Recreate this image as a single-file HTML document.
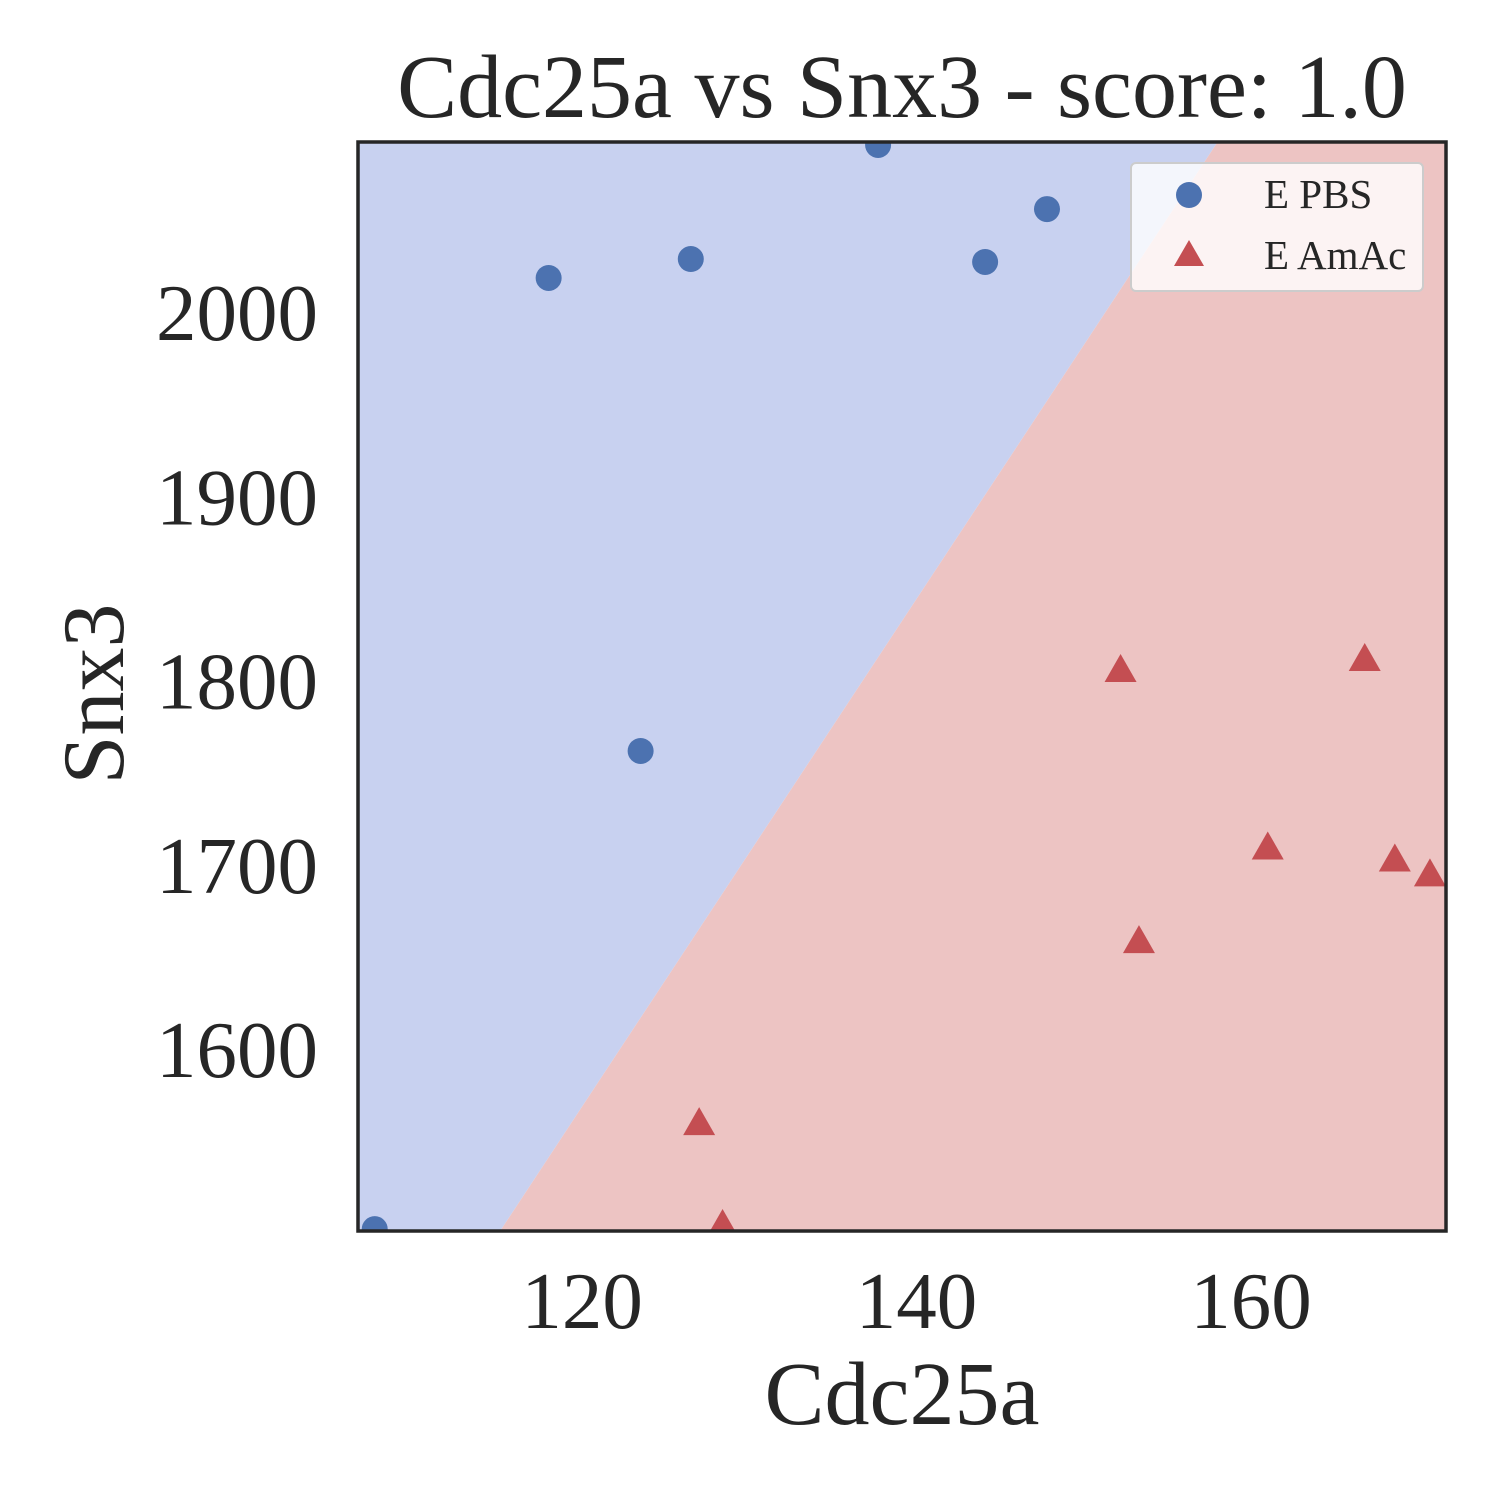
<!DOCTYPE html>
<html><head><meta charset="utf-8"><style>
body{margin:0;background:#fff}
svg{display:block;font-family:"Liberation Serif","DejaVu Serif",serif}
</style></head><body>
<svg id="chart" width="1500" height="1500" viewBox="0 0 1500 1500" xmlns="http://www.w3.org/2000/svg">
<defs><clipPath id="clip"><rect x="358" y="142" width="1088" height="1089"/></clipPath></defs>
<g id="plot" clip-path="url(#clip)"></g>
<rect x="358" y="142" width="1088" height="1089" fill="none" stroke="#262626" stroke-width="3.5"/>
<g id="axes"></g>
<text x="902" y="117" font-size="90" text-anchor="middle" fill="#262626">Cdc25a vs Snx3 - score: 1.0</text>
<text x="902" y="1424" font-size="90" text-anchor="middle" fill="#262626">Cdc25a</text>
<text transform="translate(123,694) rotate(-90)" font-size="88" text-anchor="middle" fill="#262626">Snx3</text>
<g>
<rect x="1131" y="163" width="292" height="128" rx="5" fill="#fff" fill-opacity="0.8" stroke="#ccc" stroke-width="2"/>
<circle cx="1189" cy="195" r="13" fill="#4c72b0"/>
<text x="1264" y="208" font-size="41" fill="#262626">E PBS</text>
<polygon points="1189,240 1174,266 1204,266" fill="#c44e52"/>
<text x="1264" y="269" font-size="41" fill="#262626">E AmAc</text>
</g>
</svg>
<script>
const xTicks=[120,140,160];
const yTicks=[1600,1700,1800,1900,2000];
const pbsX=[118.0,126.5,137.7,144.1,147.8,123.5,107.6];
const pbsY=[2019.0,2029.3,2091.2,2027.7,2056.4,1762.3,1502.8];
const amacX=[152.2,166.8,161.0,168.6,170.7,153.3,127.0,128.4];
const amacY=[1805.7,1811.7,1709.4,1702.9,1694.8,1658.6,1559.8,1504.5];
const boundaryX=[115.1,158.0];
const boundaryY=[1501.8,2092.8];
const xMin=106.6,xMax=171.66,yMin=1501.8,yMax=2092.8;
const L=358,R=1446,T=142,B=1231;
const sx=v=>L+(v-xMin)/(xMax-xMin)*(R-L);
const sy=v=>B-(v-yMin)/(yMax-yMin)*(B-T);
const NS="http://www.w3.org/2000/svg";
const plot=document.getElementById('plot'),axes=document.getElementById('axes');
function mk(tag,attrs,parent){const e=document.createElementNS(NS,tag);for(const k in attrs)e.setAttribute(k,attrs[k]);parent.appendChild(e);return e;}
const slope=(boundaryY[1]-boundaryY[0])/(boundaryX[1]-boundaryX[0]);
const bx=y=>boundaryX[0]+(y-boundaryY[0])/slope;
const xb=sx(bx(yMin-50)),xt=sx(bx(yMax+50));
const blue=mk('polygon',{points:`${L-10},${B+10} ${L-10},${T-10} ${xt},${sy(yMax+50)} ${xb},${sy(yMin-50)}`,fill:'#c8d1f0'},plot);


const red=mk('polygon',{points:`${xb},${sy(yMin-50)} ${xt},${sy(yMax+50)} ${R+10},${T-10} ${R+10},${B+10}`,fill:'#edc4c3'},plot);


pbsX.forEach((x,i)=>{const c=mk('circle',{cx:sx(x),cy:sy(pbsY[i]),r:13,fill:'#4c72b0'},plot);

});
amacX.forEach((x,i)=>{const cx=sx(x),cy=sy(amacY[i]);const p=mk('polygon',{points:`${cx},${cy-17} ${cx-16},${cy+11} ${cx+16},${cy+11}`,fill:'#c44e52'},plot);

});
xTicks.forEach(t=>{const e=mk('text',{x:sx(t),y:1328,'font-size':81,'text-anchor':'middle',fill:'#262626'},axes);e.textContent=t;

});
yTicks.forEach(t=>{const e=mk('text',{x:318,y:sy(t)+27,'font-size':81,'text-anchor':'end',fill:'#262626'},axes);e.textContent=t;

});
</script>
</body></html>
